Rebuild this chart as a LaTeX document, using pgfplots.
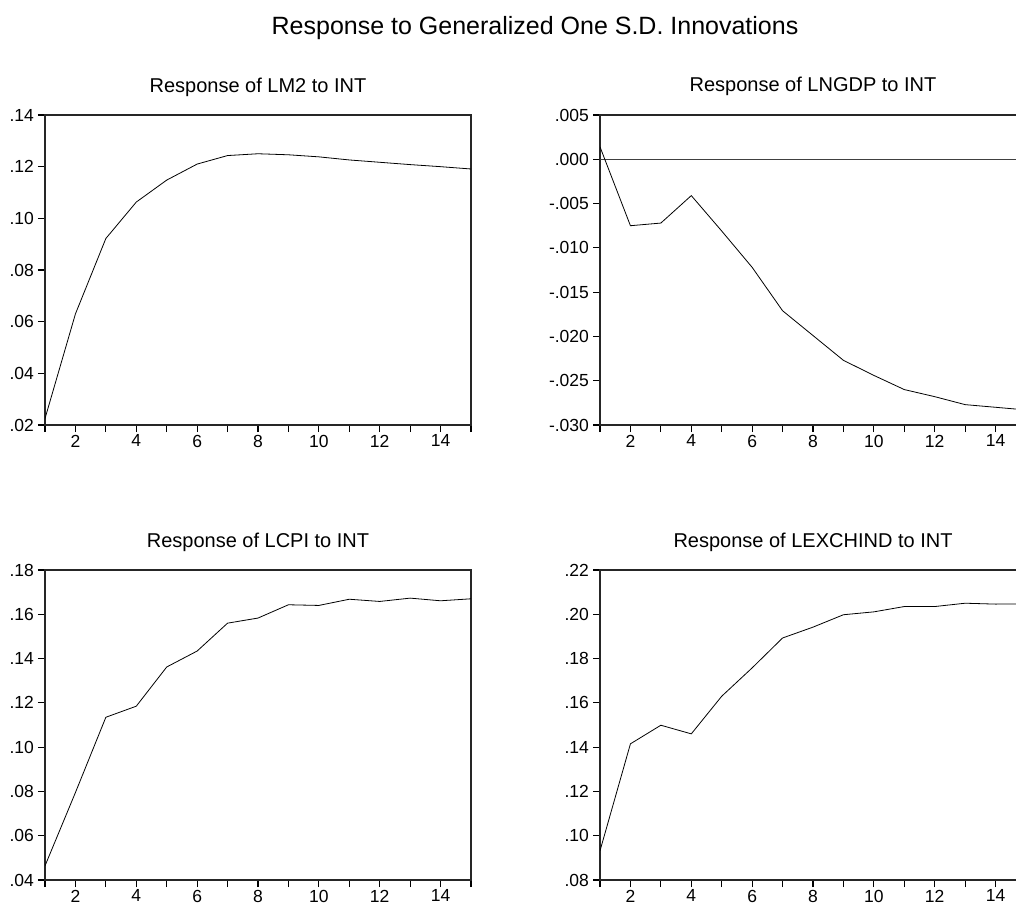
\documentclass[border=0pt]{standalone}
\usepackage{fontspec}
\setmainfont{Liberation Sans}
\usepackage{pgfplots}
\pgfplotsset{compat=1.18}

\pgfplotsset{
  irf/.style={
    scale only axis,
    width=213pt,
    height=155pt,
    xmin=1, xmax=15,
    axis line style={black!85, line width=0.8pt},
    tick align=outside,
    xtick pos=bottom,
    ytick pos=left,
    major tick length=3.5pt,
    tick style={black, line width=0.55pt},
    xtick={1,2,3,4,5,6,7,8,9,10,11,12,13,14,15},
    xticklabels={,2,,4,,6,,8,,10,,12,,14,},
    scaled y ticks=false,
    ticklabel style={font=\fontsize{8.75}{10}\selectfont},
    yticklabel style={xshift=1.5pt},
    xticklabel style={inner sep=1.5pt, yshift=0.3pt},
    title style={font=\fontsize{10}{12}\selectfont, at={(0.5,1)}, anchor=base, yshift=5.5pt},
    cycle list={{black, no markers, line width=0.75pt}},
  }
}

\begin{document}
\begin{tikzpicture}
\useasboundingbox (0,0) rectangle (508pt,-452pt);
\clip (0,0) rectangle (508pt,-452pt);

\node[font=\fontsize{12.5}{15}\selectfont] at (267.5pt,-14pt) {Response to Generalized One S.D. Innovations};

% LM2
\begin{axis}[irf, at={(22.5pt,-57.5pt)}, anchor=north west,
    title={Response of LM2 to INT},
    ymin=0.02, ymax=0.14,
    ytick={0.02,0.04,0.06,0.08,0.10,0.12,0.14},
    yticklabels={.02,.04,.06,.08,.10,.12,.14}]
\addplot coordinates {(1,0.0225) (2,0.0630) (3,0.0922) (4,0.1063) (5,0.1148)
  (6,0.1210) (7,0.1243) (8,0.1250) (9,0.1246) (10,0.1238) (11,0.1226)
  (12,0.1217) (13,0.1208) (14,0.1200) (15,0.1191)};
\end{axis}

% LNGDP
\begin{axis}[irf, at={(300pt,-57.5pt)}, anchor=north west,
    title={Response of LNGDP to INT},
    ymin=-0.030, ymax=0.005,
    ytick={-0.030,-0.025,-0.020,-0.015,-0.010,-0.005,0,0.005},
    yticklabels={-.030,-.025,-.020,-.015,-.010,-.005,.000,.005}]
\addplot[black!75, line width=0.5pt] coordinates {(1,0) (15,0)};
\addplot coordinates {(1,0.0014) (2,-0.0075) (3,-0.0072) (4,-0.0041) (5,-0.0081)
  (6,-0.0122) (7,-0.0171) (8,-0.0199) (9,-0.0227) (10,-0.0244) (11,-0.0260)
  (12,-0.0268) (13,-0.0277) (14,-0.0280) (15,-0.0283)};
\end{axis}

% LCPI
\begin{axis}[irf, at={(22.5pt,-285pt)}, anchor=north west,
    title={Response of LCPI to INT},
    ymin=0.04, ymax=0.18,
    ytick={0.04,0.06,0.08,0.10,0.12,0.14,0.16,0.18},
    yticklabels={.04,.06,.08,.10,.12,.14,.16,.18}]
\addplot coordinates {(1,0.0464) (2,0.0795) (3,0.1135) (4,0.1185) (5,0.1362)
  (6,0.1434) (7,0.1560) (8,0.1583) (9,0.1643) (10,0.1640) (11,0.1668)
  (12,0.1658) (13,0.1673) (14,0.1661) (15,0.1670)};
\end{axis}

% LEXCHIND
\begin{axis}[irf, at={(300pt,-285pt)}, anchor=north west,
    title={Response of LEXCHIND to INT},
    ymin=0.08, ymax=0.22,
    ytick={0.08,0.10,0.12,0.14,0.16,0.18,0.20,0.22},
    yticklabels={.08,.10,.12,.14,.16,.18,.20,.22}]
\addplot coordinates {(1,0.0932) (2,0.1415) (3,0.1499) (4,0.1460) (5,0.1630)
  (6,0.1758) (7,0.1893) (8,0.1942) (9,0.1998) (10,0.2011) (11,0.2035)
  (12,0.2035) (13,0.2050) (14,0.2046) (15,0.2047)};
\end{axis}
\end{tikzpicture}
\end{document}
